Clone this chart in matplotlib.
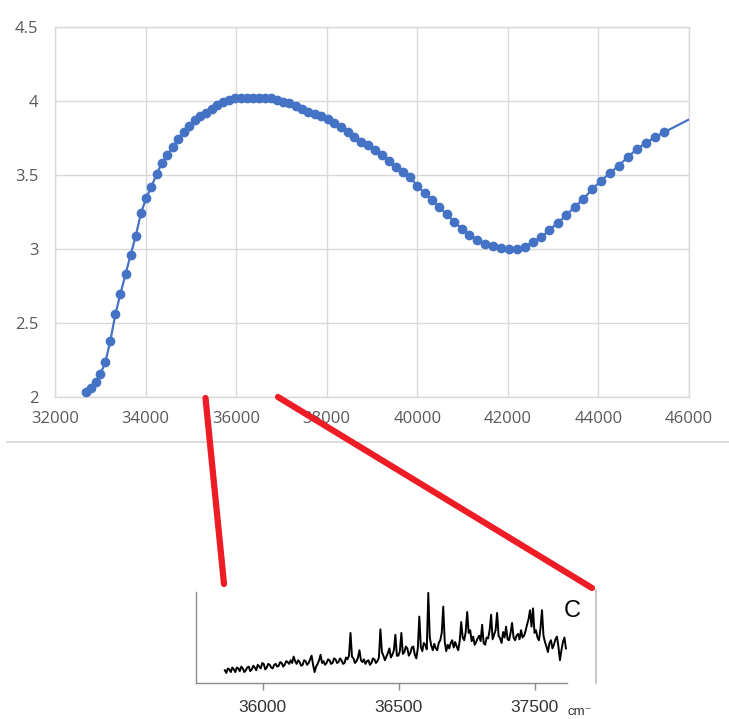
import matplotlib.pyplot as plt
import numpy as np
from matplotlib.lines import Line2D

W, H = 729, 719

# absorbance scan, one reading per nm; the last point lies past the axis edge
wavelength_nm = list(range(306, 219, -1)) + [216]
absorbance = [
    2.036, 2.063, 2.100, 2.154, 2.236, 2.380, 2.559, 2.696, 2.829, 2.959,
    3.088, 3.241, 3.343, 3.421, 3.506, 3.581, 3.634, 3.689, 3.742, 3.791,
    3.832, 3.869, 3.895, 3.920, 3.945, 3.972, 3.993, 4.008, 4.017, 4.019,
    4.021, 4.022, 4.022, 4.020, 4.016, 4.003, 3.995, 3.984, 3.963, 3.943,
    3.924, 3.909, 3.895, 3.877, 3.851, 3.821, 3.789, 3.754, 3.724, 3.698,
    3.668, 3.635, 3.596, 3.556, 3.520, 3.483, 3.427, 3.378, 3.330, 3.283,
    3.233, 3.182, 3.137, 3.095, 3.061, 3.034, 3.018, 3.007, 2.999, 2.999,
    3.014, 3.047, 3.078, 3.128, 3.176, 3.228, 3.284, 3.338, 3.401, 3.460,
    3.510, 3.561, 3.618, 3.672, 3.715, 3.754, 3.788, 3.920,
]
x_ticks = [32000, 34000, 36000, 38000, 40000, 42000, 44000, 46000]
y_ticks = [2, 2.5, 3, 3.5, 4, 4.5]
y_tick_labels = ['2', '2.5', '3', '3.5', '4', '4.5']

# high resolution trace of the 35900-37100 cm-1 window (arbitrary units)
inset_signal = [
    14, 11, 16, 15, 12, 17, 15, 12, 17, 16, 13, 18, 16, 12, 14, 17, 18, 13, 15, 19,
    17, 14, 20, 18, 16, 22, 21, 15, 17, 21, 20, 17, 16, 20, 21, 18, 19, 23, 22, 18,
    20, 24, 23, 21, 25, 22, 29, 24, 21, 25, 23, 19, 20, 25, 24, 20, 22, 26, 30, 20,
    12, 18, 21, 25, 31, 22, 24, 20, 22, 26, 25, 21, 22, 27, 26, 22, 23, 27, 25, 21,
    22, 28, 26, 30, 55, 29, 27, 22, 24, 28, 36, 25, 23, 26, 21, 24, 25, 20, 22, 27,
    26, 22, 24, 28, 59, 34, 30, 25, 29, 33, 38, 28, 31, 36, 53, 30, 30, 35, 55, 32,
    34, 40, 38, 30, 33, 39, 40, 31, 27, 38, 73, 40, 35, 44, 42, 37, 99, 50, 41, 36,
    43, 38, 36, 44, 47, 55, 84, 45, 35, 42, 38, 44, 47, 39, 45, 40, 36, 46, 67, 50,
    47, 56, 78, 55, 58, 46, 51, 42, 45, 49, 52, 46, 64, 44, 42, 50, 49, 58, 75, 48,
    53, 58, 77, 52, 49, 44, 56, 50, 62, 48, 47, 55, 66, 50, 47, 52, 54, 48, 58, 50,
    52, 57, 64, 70, 80, 62, 82, 55, 58, 50, 47, 60, 80, 52, 45, 40, 34, 44, 47, 38,
    42, 48, 51, 40, 25, 36, 45, 50, 38,
]
inset_start, inset_end = 35860, 37114
inset_ticks = [36000, 36500, 37000]
inset_tick_labels = ['36000', '36500', '37500']


def box(left, top, right, bottom):
    return [left / W, 1 - bottom / H, (right - left) / W, (bottom - top) / H]


def fig_line(fig, p0, p1, **kw):
    fig.add_artist(Line2D([p0[0] / W, p1[0] / W], [1 - p0[1] / H, 1 - p1[1] / H],
                          transform=fig.transFigure, **kw))


fig = plt.figure(figsize=(W / 100, H / 100), dpi=100)

# main scatter-with-line chart
ax = fig.add_axes(box(55, 26.7, 689, 397))
wavenumber = 1e7 / np.array(wavelength_nm)
ax.plot(wavenumber, absorbance, color='#4472C4', lw=1.6, marker='o', ms=6, zorder=3)
ax.set_xlim(32000, 46000)
ax.set_ylim(2, 4.5)
ax.set_xticks(x_ticks)
ax.set_xticklabels([str(t) for t in x_ticks])
ax.set_yticks(y_ticks)
ax.set_yticklabels(y_tick_labels)
ax.grid(color='#D9D9D9', lw=1)
ax.set_axisbelow(True)
for s in ax.spines.values():
    s.set_color('#D9D9D9')
    s.set_linewidth(1)
ax.tick_params(length=0, labelcolor='#595959', labelsize=12)
ax.tick_params(axis='x', pad=10)
ax.tick_params(axis='y', pad=12)
for lab in ax.get_xticklabels() + ax.get_yticklabels():
    lab.set_family('Open Sans')

# separator under the chart
fig_line(fig, (7, 442), (729, 442), color='#D4D4D4', lw=1.2)

# inset spectrum
ins = fig.add_axes(box(196, 592, 567, 683))
inset_wn = np.linspace(inset_start, inset_end, len(inset_signal))
ins.plot(inset_wn, inset_signal, color='black', lw=1.4)
ins.set_xlim(35754, 37118)
ins.set_ylim(0, 100)
ins.set_yticks([])
ins.set_xticks(inset_ticks)
ins.set_xticklabels(inset_tick_labels)
ins.spines['top'].set_visible(False)
ins.spines['right'].set_visible(False)
for s in ('left', 'bottom'):
    ins.spines[s].set_color('#8C8C8C')
    ins.spines[s].set_linewidth(1)
ins.tick_params(axis='x', direction='out', length=5, width=1, color='#8C8C8C',
                labelsize=12.5, labelcolor='#333333', pad=7)
for lab in ins.get_xticklabels():
    lab.set_family('Liberation Sans')
ins.patch.set_alpha(0)

fig.text(568 / W, 1 - 715 / H, 'cm\u207b', fontsize=9.5, color='#333333',
         family=['Liberation Sans', 'DejaVu Sans'], ha='left', va='baseline')
fig.text(572 / W, 1 - 611 / H, 'C', fontsize=17, color='black',
         family='Liberation Sans', ha='center', va='center')
fig_line(fig, (596, 590), (596, 683), color='#BDBDBD', lw=1.2)

# zoom connectors
red = dict(color='#EE1C25', lw=4.5, solid_capstyle='round', zorder=5)
fig_line(fig, (205.5, 398), (224, 584), **red)
fig_line(fig, (278, 397), (592, 588), **red)

fig.savefig('out.png', dpi=100)
